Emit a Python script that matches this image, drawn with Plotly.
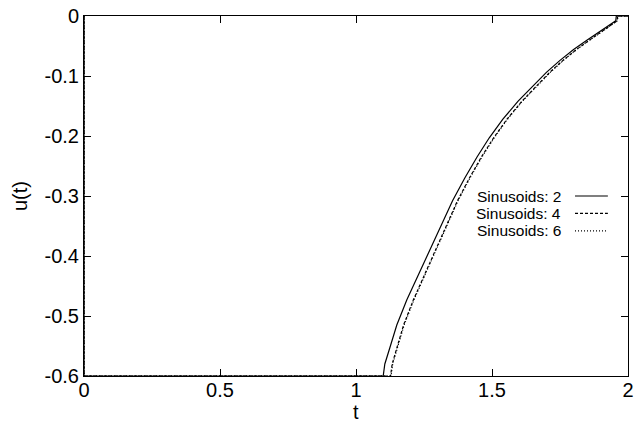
import plotly.graph_objects as go

# Control signal u(t) for different numbers of sinusoids
t_s2 = [0.0, 0.0, 1.100, 1.102, 1.106, 1.125, 1.150, 1.187, 1.225, 1.260, 1.310,
        1.355, 1.400, 1.445, 1.490, 1.540, 1.596, 1.650, 1.700, 1.750, 1.800,
        1.850, 1.900, 1.940, 1.955, 1.957, 2.0]
u_s2 = [0.0, -0.600, -0.600, -0.592, -0.580, -0.552, -0.515, -0.473, -0.435, -0.400, -0.350,
        -0.308, -0.270, -0.235, -0.203, -0.172, -0.142, -0.117, -0.094, -0.074, -0.056,
        -0.040, -0.025, -0.013, -0.008, 0.0, 0.0]

t_s4 = [0.0, 0.0, 1.127, 1.129, 1.133, 1.151, 1.175, 1.211, 1.248, 1.282, 1.330,
        1.373, 1.417, 1.461, 1.506, 1.555, 1.610, 1.663, 1.712, 1.761, 1.810,
        1.859, 1.907, 1.946, 1.960, 1.962, 2.0]
u_s4 = [0.0, -0.600, -0.600, -0.592, -0.580, -0.552, -0.515, -0.473, -0.435, -0.400, -0.350,
        -0.308, -0.270, -0.235, -0.203, -0.172, -0.142, -0.117, -0.094, -0.074, -0.056,
        -0.040, -0.025, -0.013, -0.008, 0.0, 0.0]

t_s6 = [0.0, 0.0, 1.129, 1.131, 1.135, 1.153, 1.177, 1.213, 1.250, 1.284, 1.332,
        1.375, 1.419, 1.463, 1.508, 1.557, 1.612, 1.665, 1.714, 1.762, 1.811,
        1.860, 1.908, 1.947, 1.961, 1.963, 2.0]
u_s6 = [0.0, -0.600, -0.600, -0.592, -0.580, -0.552, -0.515, -0.473, -0.435, -0.400, -0.350,
        -0.308, -0.270, -0.235, -0.203, -0.172, -0.142, -0.117, -0.094, -0.074, -0.056,
        -0.040, -0.025, -0.013, -0.008, 0.0, 0.0]

series_names = ["Sinusoids: 2", "Sinusoids: 4", "Sinusoids: 6"]
series_t = [t_s2, t_s4, t_s6]
series_u = [u_s2, u_s4, u_s6]
dash_styles = ["solid", "3px,2px", "1px,2px"]

x_ticks = [0, 0.5, 1, 1.5, 2]
x_tick_text = ["0", "0.5", "1", "1.5", "2"]
y_ticks = [0, -0.1, -0.2, -0.3, -0.4, -0.5, -0.6]
y_tick_text = ["0", "-0.1", "-0.2", "-0.3", "-0.4", "-0.5", "-0.6"]

FONT = "Liberation Sans, Arial, Helvetica, sans-serif"

fig = go.Figure()
for name, tv, uv, dash in zip(series_names, series_t, series_u, dash_styles):
    fig.add_trace(go.Scatter(
        x=tv, y=uv, mode="lines", name=name, showlegend=False,
        line=dict(color="black", width=1.2, dash=dash),
    ))

# gnuplot-style key: label text on the left, line sample on the right
row_y = [0.5, 0.4515, 0.403]
for name, dash, yy in zip(series_names, dash_styles, row_y):
    fig.add_annotation(
        xref="paper", yref="paper", x=0.8805, y=yy, text=name,
        showarrow=False, xanchor="right", yanchor="middle",
        font=dict(family=FONT, size=15.5, color="black"),
    )
    fig.add_shape(
        type="line", xref="paper", yref="paper",
        x0=0.9026, x1=0.963, y0=yy, y1=yy,
        line=dict(color="black", width=1.2, dash=dash),
    )

# axis titles
title_font = dict(family=FONT, size=20, color="black")
fig.add_annotation(xref="paper", yref="paper", x=0.5, y=-0.1, text="t",
                   showarrow=False, xanchor="center", yanchor="middle", font=title_font)
fig.add_annotation(xref="paper", yref="paper", x=-0.1176, y=0.5, text="u(t)",
                   showarrow=False, xanchor="center", yanchor="middle",
                   textangle=-90, font=title_font)

axis_common = dict(
    showgrid=False, zeroline=False, showline=True, linecolor="black", linewidth=1,
    mirror="allticks", ticks="inside", ticklen=7, tickcolor="black", tickwidth=1,
    tickfont=dict(family=FONT, size=20, color="black"), automargin=False,
)

fig.update_layout(
    width=635, height=424,
    margin=dict(l=84, r=7, t=16, b=48),
    paper_bgcolor="white", plot_bgcolor="white",
    xaxis=dict(range=[0, 2], tickvals=x_ticks, ticktext=x_tick_text,
               ticklabelstandoff=-4, **axis_common),
    yaxis=dict(range=[-0.6, 0], tickvals=y_ticks, ticktext=y_tick_text,
               ticklabelstandoff=0, **axis_common),
)

fig.write_html("out.html")
